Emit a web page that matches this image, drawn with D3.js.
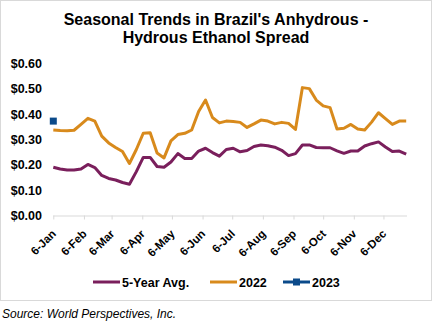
<!DOCTYPE html>
<html>
<head>
<meta charset="utf-8">
<script src="https://cdn.jsdelivr.net/npm/d3@7/dist/d3.min.js"></script>
<style>
  html, body { margin: 0; padding: 0; background: #fff; }
  svg { display: block; font-family: "Liberation Sans", Arial, sans-serif; }
</style>
</head>
<body>
<svg id="chart" width="433" height="323"></svg>
<script>
// Weekly anhydrous - hydrous spread (US$/liter), weeks starting 6-Jan
const weekStart = new Date(2022, 0, 6);
const fiveYearAvg = [
  0.190, 0.183, 0.179, 0.179, 0.183, 0.201, 0.189, 0.158, 0.146, 0.140,
  0.130, 0.123, 0.173, 0.229, 0.229, 0.193, 0.190, 0.211, 0.244, 0.225,
  0.225, 0.254, 0.265, 0.248, 0.234, 0.260, 0.265, 0.251, 0.256, 0.272,
  0.278, 0.275, 0.269, 0.257, 0.236, 0.244, 0.278, 0.278, 0.268, 0.267,
  0.267, 0.255, 0.245, 0.254, 0.254, 0.274, 0.283, 0.290, 0.270, 0.252,
  0.254, 0.242
];
const y2022 = [
  0.337, 0.335, 0.334, 0.336, 0.359, 0.383, 0.372, 0.313, 0.286, 0.268,
  0.252, 0.205, 0.260, 0.324, 0.326, 0.246, 0.227, 0.294, 0.319, 0.324,
  0.337, 0.410, 0.455, 0.386, 0.365, 0.372, 0.370, 0.367, 0.347, 0.361,
  0.376, 0.372, 0.361, 0.367, 0.363, 0.339, 0.504, 0.500, 0.455, 0.432,
  0.425, 0.341, 0.344, 0.359, 0.341, 0.337, 0.368, 0.405, 0.382, 0.359,
  0.372, 0.372
];
const y2023 = [0.372];
const yTicks = [0, 0.1, 0.2, 0.3, 0.4, 0.5, 0.6];
const monthTicks = d3.range(12).map(m => new Date(2022, m, 6));
const seriesNames = ["5-Year Avg.", "2022", "2023"];
const colors = ["#7a1f5c", "#d88a1c", "#0b4a8a"];

const weekDate = i => d3.timeDay.offset(weekStart, 7 * i);

const svg = d3.select("#chart");

// chart frame
svg.append("rect")
  .attr("x", 0.5).attr("y", 0.5)
  .attr("width", 431).attr("height", 300)
  .attr("fill", "#fff").attr("stroke", "#d9d9d9");

// title
const title = svg.append("text")
  .attr("text-anchor", "middle")
  .attr("font-size", 16).attr("font-weight", "bold").attr("fill", "#000");
title.append("tspan").attr("x", 216).attr("y", 25)
  .text("Seasonal Trends in Brazil's Anhydrous -");
title.append("tspan").attr("x", 216).attr("y", 43)
  .text("Hydrous Ethanol Spread");

const x = d3.scaleTime()
  .domain([weekStart, weekDate(fiveYearAvg.length - 1)])
  .range([53.3, 406.2]);
const y = d3.scaleLinear().domain([0, 0.6]).range([215.5, 63.25]);

// y axis labels
const yAxis = svg.append("g")
  .attr("transform", "translate(44,0)")
  .call(d3.axisLeft(y).tickValues(yTicks).tickSize(0).tickPadding(2)
    .tickFormat(d => "$" + d.toFixed(2)));
yAxis.select(".domain").remove();
yAxis.selectAll("text")
  .attr("font-size", 12.5).attr("font-weight", "bold")
  .attr("font-family", "Liberation Sans, Arial, sans-serif").attr("fill", "#000");

// x axis
const xAxis = svg.append("g")
  .attr("transform", "translate(0,215.5)")
  .call(d3.axisBottom(x).tickValues(monthTicks).tickSize(4).tickSizeOuter(0)
    .tickFormat(d3.timeFormat("%-d-%b")));
xAxis.select(".domain").attr("stroke", "#d9d9d9")
  .attr("d", "M53.3,0.5H407");
xAxis.selectAll(".tick line").attr("stroke", "#d9d9d9");
xAxis.selectAll("text")
  .attr("font-size", 11.5).attr("font-weight", "bold")
  .attr("font-family", "Liberation Sans, Arial, sans-serif").attr("fill", "#000")
  .attr("text-anchor", "end")
  .attr("x", 0).attr("y", 0).attr("dy", 0)
  .attr("transform", "translate(3,19) rotate(-45)");

// series lines
const line = d3.line()
  .x((d, i) => x(weekDate(i)))
  .y(d => y(d));

[fiveYearAvg, y2022].forEach((vals, k) => {
  svg.append("path")
    .datum(vals)
    .attr("fill", "none")
    .attr("stroke", colors[k])
    .attr("stroke-width", 3)
    .attr("stroke-linejoin", "round")
    .attr("d", line);
});

// 2023 so far
svg.selectAll(".m2023").data(y2023).enter().append("rect")
  .attr("class", "m2023")
  .attr("x", (d, i) => x(weekDate(i)) - 3.5)
  .attr("y", d => y(d) - 3.5)
  .attr("width", 7).attr("height", 7)
  .attr("fill", colors[2]);

// legend
const legendItems = [
  { name: seriesNames[0], color: colors[0], x: 93 },
  { name: seriesNames[1], color: colors[1], x: 210 },
  { name: seriesNames[2], color: colors[2], x: 283, marker: true }
];
const legend = svg.append("g").attr("transform", "translate(0,282)");
legendItems.forEach(it => {
  const g = legend.append("g").attr("transform", `translate(${it.x},0)`);
  g.append("line").attr("x1", 0).attr("x2", 27).attr("y1", 0).attr("y2", 0)
    .attr("stroke", it.color).attr("stroke-width", 3);
  if (it.marker) {
    g.append("rect").attr("x", 10).attr("y", -3.5).attr("width", 7).attr("height", 7)
      .attr("fill", it.color);
  }
  g.append("text").attr("x", 29).attr("y", 4.5)
    .attr("font-size", 12.5).attr("font-weight", "bold").attr("fill", "#000")
    .text(it.name);
});

// source note
svg.append("text")
  .attr("x", 2).attr("y", 318)
  .attr("font-size", 12).attr("font-style", "italic").attr("fill", "#000")
  .text("Source: World Perspectives, Inc.");
</script>
</body>
</html>
